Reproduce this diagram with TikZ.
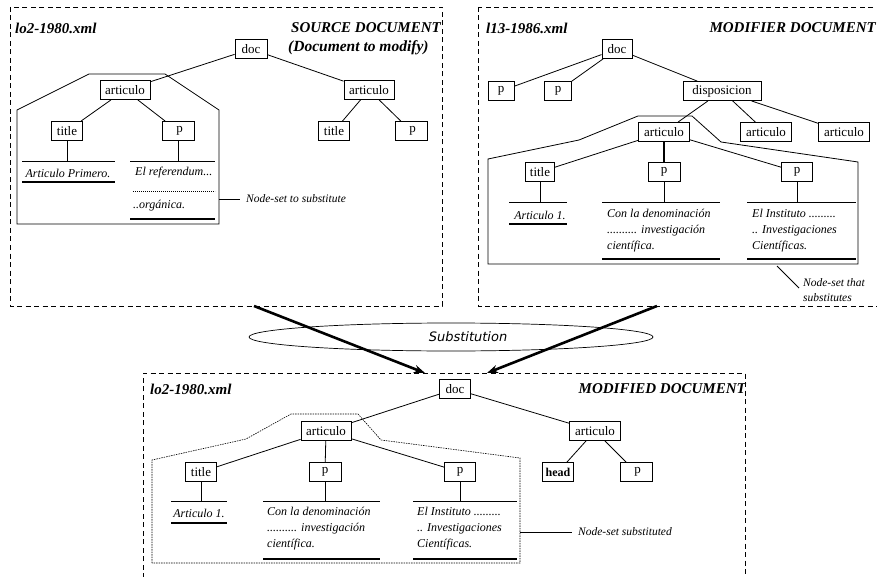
\documentclass[tikz,border=0pt]{standalone}
\usepackage{fontspec}
\setmainfont{Liberation Serif}
\newfontfamily\subfont{DejaVu Sans}
\usetikzlibrary{arrows.meta,shapes.geometric}
\begin{document}
\begin{tikzpicture}[x=1pt,y=-1pt,
 tn/.style={draw,line width=0.8pt,minimum height=19pt,inner sep=1pt,font=\fontsize{13}{15}\selectfont,fill=white},
 docbox/.style={draw,dash pattern=on 5pt off 3.5pt,line width=0.9pt},
 conn/.style={line width=0.8pt},
 hullsolid/.style={line width=0.8pt},
 hulldot/.style={line width=0.6pt,dash pattern=on 1.5pt off 1pt},
 rulethin/.style={line width=0.8pt},
 rulethick/.style={line width=1.4pt},
 dotrule/.style={line width=0.7pt,dash pattern=on 0.8pt off 1.2pt},
 leaf/.style={font=\fontsize{12}{16}\selectfont\itshape,inner sep=0pt,align=left,anchor=west},
 leafc/.style={font=\fontsize{12}{16}\selectfont\itshape,inner sep=0pt},
 heading/.style={font=\fontsize{15}{17}\selectfont\bfseries\itshape,inner sep=0pt},
 note/.style={font=\fontsize{11.5}{15}\selectfont\itshape,inner sep=0pt,anchor=west,align=left},
 bigarrow/.style={line width=2.6pt,-{Stealth[length=11pt,width=8pt]}}
]
\useasboundingbox (0,0) rectangle (877,577);
\begin{scope}
\clip (0,0) rectangle (877,577);
% ---------- document frames ----------
\draw[docbox] (10,7) rectangle (442,306);
\draw[docbox] (478,7) rectangle (895,306);
\draw[docbox] (143,595) -- (143,373) -- (745,373) -- (745,595);

% ---------- substitution ----------
\node[draw,ellipse,minimum width=404pt,minimum height=28pt,line width=0.7pt] (subst) at (451,337) {};
\node[font=\subfont\itshape\fontsize{13}{15}\selectfont,inner sep=0pt] (substlbl) at (468,337) {Substitution};
\coordinate (srcout) at (254,306);
\coordinate (modout) at (657,306);
\coordinate (tgtL) at (425,373);
\coordinate (tgtR) at (487,373);
\draw[bigarrow] (srcout) -- (tgtL);
\draw[bigarrow] (modout) -- (tgtR);

% ================= SOURCE DOCUMENT =================
\node[heading,anchor=west] (fn1) at (15,28) {lo2-1980.xml};
\node[heading,anchor=east] (ttl1) at (441,28) {SOURCE DOCUMENT};
\node[heading,anchor=west,font=\fontsize{15.5}{17}\selectfont\bfseries\itshape] (ttl1b) at (288,48) {(Document to modify)};
\draw[hullsolid] (17,224) -- (17,110) -- (89,74) -- (165,74) -- (219,110) -- (219,224) -- cycle;
\node[tn,minimum width=32pt] (doc1) at (251,49) {doc};
\node[tn,minimum width=50pt] (art1a) at (125,90) {articulo};
\node[tn,minimum width=50pt] (art1b) at (369,90) {articulo};
\node[tn,minimum width=31pt] (tit1a) at (67,131) {title};
\node[tn,minimum width=32pt] (p1a) at (178,131) {\hspace*{3pt}p};
\node[tn,minimum width=31pt] (tit1b) at (334,131) {title};
\node[tn,minimum width=32pt] (p1b) at (411,131) {\hspace*{3pt}p};
\draw[conn] (doc1) -- (art1a);
\draw[conn] (doc1) -- (art1b);
\draw[conn] (art1a) -- (tit1a);
\draw[conn] (art1a) -- (p1a);
\draw[conn] (art1b) -- (tit1b);
\draw[conn] (art1b) -- (p1b);
% leaves
\draw[conn] (tit1a.south) -- (tit1a.south |- 0,161);
\draw[rulethin] (22,161) -- (115,161);
\node[leafc] (lf1a) at (68,173) {Articulo Primero.};
\draw[rulethick] (22,182) -- (115,182);
\draw[conn] (p1a.south) -- (p1a.south |- 0,161);
\draw[rulethin] (130,161) -- (215,161);
\node[leaf] (lf1b) at (135,173) {El referendum...};
\draw[dotrule] (133,191) -- (215,191);
\node[leaf] (lf1c) at (133,206) {..orgánica.};
\draw[rulethick] (130,219) -- (215,219);
\coordinate (h1r) at (219,199);
\node[note] (ns1) at (246,199) {Node-set to substitute};
\draw[conn] (h1r) -- ([xshift=-6pt]ns1.west);

% ================= MODIFIER DOCUMENT =================
\node[heading,anchor=west] (fn2) at (486,28) {l13-1986.xml};
\node[heading,anchor=east] (ttl2) at (876,28) {MODIFIER DOCUMENT};
\draw[hullsolid] (488,264) -- (488,159) -- (579,140) -- (638,116) -- (692,116) -- (721,142) -- (858,162) -- (858,264) -- cycle;
\node[tn,minimum width=30pt] (doc2) at (617,49) {doc};
\node[tn,minimum width=26pt] (p2a) at (501,91) {p};
\node[tn,minimum width=27pt] (p2b) at (558,91) {p};
\node[tn,minimum width=78pt] (disp) at (722,91) {disposicion};
\node[tn,minimum width=51pt] (art2a) at (664,132) {articulo};
\node[tn,minimum width=51pt] (art2b) at (766,132) {articulo};
\node[tn,minimum width=51pt] (art2c) at (844,132) {articulo};
\node[tn,minimum width=29pt] (tit2) at (540,172) {title};
\node[tn,minimum width=32pt] (p2c) at (664,172) {p};
\node[tn,minimum width=31pt] (p2d) at (797,172) {p};
\draw[conn] (doc2) -- (p2a);
\draw[conn] (doc2) -- (p2b);
\draw[conn] (doc2) -- (disp);
\draw[conn] (disp) -- (art2a);
\draw[conn] (disp) -- (art2b);
\draw[conn] (disp) -- (art2c);
\draw[conn] (art2a) -- (tit2);
\draw[line width=1.3pt] (art2a) -- (p2c);
\draw[conn] (art2a) -- (p2d);
% leaves
\draw[conn] (tit2.south) -- (tit2.south |- 0,202);
\draw[rulethin] (509,202) -- (567,202);
\node[leafc] (lf2a) at (540,215) {Articulo 1.};
\draw[rulethick] (509,224) -- (567,224);
\draw[conn] (p2c.south) -- (p2c.south |- 0,202);
\draw[rulethin] (602,202) -- (720,202);
\node[leaf] (lf2b) at (607,231) {Con la denominación\\.......... investigación\\científica.};
\draw[rulethick] (602,259) -- (720,259);
\draw[conn] (p2d.south) -- (p2d.south |- 0,202);
\draw[rulethin] (747,202) -- (856,202);
\node[leaf] (lf2c) at (752,231) {El Instituto .........\\.. Investigaciones\\Científicas.};
\draw[rulethick] (747,259) -- (856,259);
\coordinate (h2b) at (777,266);
\coordinate (h2e) at (799,288);
\node[note] (ns2) at (803,290.5) {Node-set that\\substitutes};
\draw[conn] (h2b) -- (h2e);

% ================= MODIFIED DOCUMENT =================
\node[heading,anchor=west] (fn3) at (150,389) {lo2-1980.xml};
\node[heading,anchor=east] (ttl3) at (746,389) {MODIFIED DOCUMENT};
\draw[hulldot] (152,563) -- (152,460) -- (246,439) -- (291,414) -- (358,414) -- (381,440) -- (520,458) -- (520,563) -- cycle;
\node[tn,minimum width=31pt] (doc3) at (455,389) {doc};
\node[tn,minimum width=50pt] (art3a) at (326,431) {articulo};
\node[tn,minimum width=51pt] (art3b) at (595,431) {articulo};
\node[tn,minimum width=31pt] (tit3) at (201,472) {title};
\node[tn,minimum width=32pt] (p3a) at (325,472) {p};
\node[tn,minimum width=31pt] (p3b) at (460,472) {p};
\node[tn,minimum width=31pt,font=\fontsize{12}{14}\selectfont\bfseries] (head3) at (558,472) {head};
\node[tn,minimum width=32pt] (p3c) at (636,472) {\hspace*{3pt}p};
\draw[conn] (doc3) -- (art3a);
\draw[conn] (doc3) -- (art3b);
\draw[conn] (art3a) -- (tit3);
\draw[conn] (art3a) -- (p3a);
\draw[conn] (art3a) -- (p3b);
\draw[conn] (art3b) -- (head3);
\draw[conn] (art3b) -- (p3c);
% leaves
\draw[conn] (tit3.south) -- (tit3.south |- 0,501);
\draw[rulethin] (171,501) -- (227,501);
\node[leafc] (lf3a) at (199,513) {Articulo 1.};
\draw[rulethick] (171,523) -- (227,523);
\draw[conn] (p3a.south) -- (p3a.south |- 0,501);
\draw[rulethin] (263,501) -- (380,501);
\node[leaf] (lf3b) at (267,529) {Con la denominación\\.......... investigación\\científica.};
\draw[rulethick] (263,559) -- (380,559);
\draw[conn] (p3b.south) -- (p3b.south |- 0,501);
\draw[rulethin] (413,501) -- (517,501);
\node[leaf] (lf3c) at (417,529) {El Instituto .........\\.. Investigaciones\\Científicas.};
\draw[rulethick] (413,559) -- (517,559);
\coordinate (h3r) at (520,532);
\node[note] (ns3) at (578,532) {Node-set substituted};
\draw[conn] (h3r) -- ([xshift=-6pt]ns3.west);
\end{scope}
\end{tikzpicture}
\end{document}
